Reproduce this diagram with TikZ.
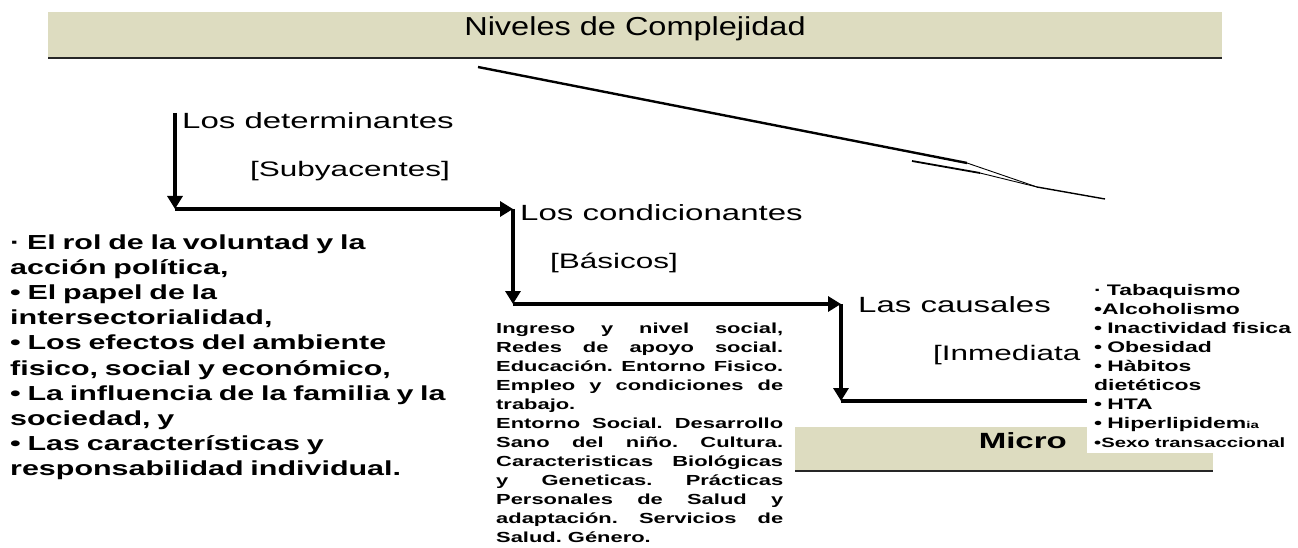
\documentclass[tikz,border=0pt]{standalone}
\usepackage{fontspec}
\setmainfont{Liberation Sans}
\newfontfamily\widesans[FakeStretch=1.5]{Liberation Sans}
\newfontfamily\titlesans[FakeStretch=1.25]{Liberation Sans}
\usetikzlibrary{arrows.meta}
\definecolor{bandfill}{RGB}{221,220,192}
\setlength{\parindent}{0pt}
\tolerance=9999
\frenchspacing
\tikzstyle{level}=[anchor=base west, inner sep=0pt, font=\widesans\fontsize{22}{26}\selectfont]
\tikzstyle{bracket}=[level, font=\widesans\fontsize{21}{25}\selectfont]
\tikzstyle{flow}=[line width=3.2pt, -{Triangle[width=15pt,length=13pt]}]
\tikzstyle{link}=[line width=3.2pt]
\tikzstyle{band}=[fill=bandfill]
\tikzstyle{bandline}=[line width=2.2pt, black!85]
\tikzstyle{plainlist}=[anchor=base west, inner sep=0pt, text width=450pt, align=left,
  font=\widesans\bfseries\fontsize{20.3}{25.2}\selectfont]
\tikzstyle{blocktext}=[anchor=base west, inner sep=0pt, text width=287pt, align=justify,
  font=\widesans\bfseries\fontsize{14.6}{19}\selectfont]

\begin{document}
\begin{tikzpicture}[x=1pt, y=-1pt]
      \useasboundingbox (0,0) rectangle (1298,548);
      \fill[band] (48,12) rectangle (1222,57);
      \draw[bandline] (48,58) -- (1222,58);
      \node[anchor=base, inner sep=0pt, font=\titlesans\fontsize{26}{30}\selectfont] (title) at (635,36) {Niveles de Complejidad};
      \draw[line width=2.4pt] (478,67) -- (967,163);
      \draw[line width=1.8pt] (912,161) -- (980,173);
      \draw[line width=0.9pt] (967,163) -- (1037,187);
      \draw[line width=0.9pt] (980,173) -- (1037,187);
      \draw[line width=1.4pt] (1037,187) -- (1105,199);
      \node[level] (det) at (182,129) {Los determinantes};
      \node[bracket] (sub) at (250,177) {[Subyacentes]};
      \node[level] (cond) at (520,221) {Los condicionantes};
      \node[bracket] (bas) at (550,268) {[Básicos]};
      \node[level] (caus) at (858,312) {Las causales};
      \node[bracket] (inm) at (933,360) {[Inmediata};
      \coordinate (a0) at (175,113);
      \coordinate (a1) at (175,209);
      \coordinate (b0) at (513,209);
      \coordinate (b1) at (513,304);
      \coordinate (c0) at (841,304);
      \coordinate (c1) at (841,401);
      \draw[flow] (a0) -- (a1);
      \draw[flow] (a1) -- (b0);
      \draw[flow] (b0) -- (b1);
      \draw[flow] (b1) -- (c0);
      \draw[flow] (c0) -- (c1);
      \node[plainlist] (roles) at (10,249) {· El rol de la voluntad y la\\
        acción política,\\
        • El papel de la\\
        intersectorialidad,\\
        • Los efectos del ambiente\\
        fisico, social y económico,\\
        • La influencia de la familia y la\\
        sociedad, y\\
        • Las características y\\
        responsabilidad individual.};
      \node[blocktext] (basics) at (496,333) {Ingreso y nivel social,\linebreak
        Redes de apoyo social.\linebreak
        Educación. Entorno Fisico.\linebreak
        Empleo y condiciones de\linebreak
        trabajo.\par
        Entorno Social. Desarrollo\linebreak
        Sano del niño. Cultura.\linebreak
        Caracteristicas Biológicas\linebreak
        y Geneticas. Prácticas\linebreak
        Personales de Salud y\linebreak
        adaptación. Servicios de\linebreak
        Salud. Género.};
      \fill[band] (795,427) rectangle (1213,470);
      \draw[bandline] (795,471) -- (1213,471);
      \node[anchor=base east, inner sep=0pt, font=\widesans\bfseries\fontsize{22}{25}\selectfont] (micro) at (1067,448) {Micro};
      \node[anchor=base west, fill=white, inner xsep=7pt, inner ysep=6pt, text width=205pt, align=left,
        font=\widesans\bfseries\fontsize{15.3}{19}\selectfont] (risk) at (1087,295) {· Tabaquismo\\
        •Alcoholismo\\
        • Inactividad fisica\\
        • Obesidad\\
        • Hàbitos\\
        dietéticos\\
        • HTA\\
        • Hiperlipidem{\fontsize{10}{10}\selectfont ia}\\
        {\fontsize{13.5}{19}\selectfont •Sexo transaccional}};
      \draw[link] (c1) -- (c1 -| risk.west);
    \end{tikzpicture}
\end{document}
